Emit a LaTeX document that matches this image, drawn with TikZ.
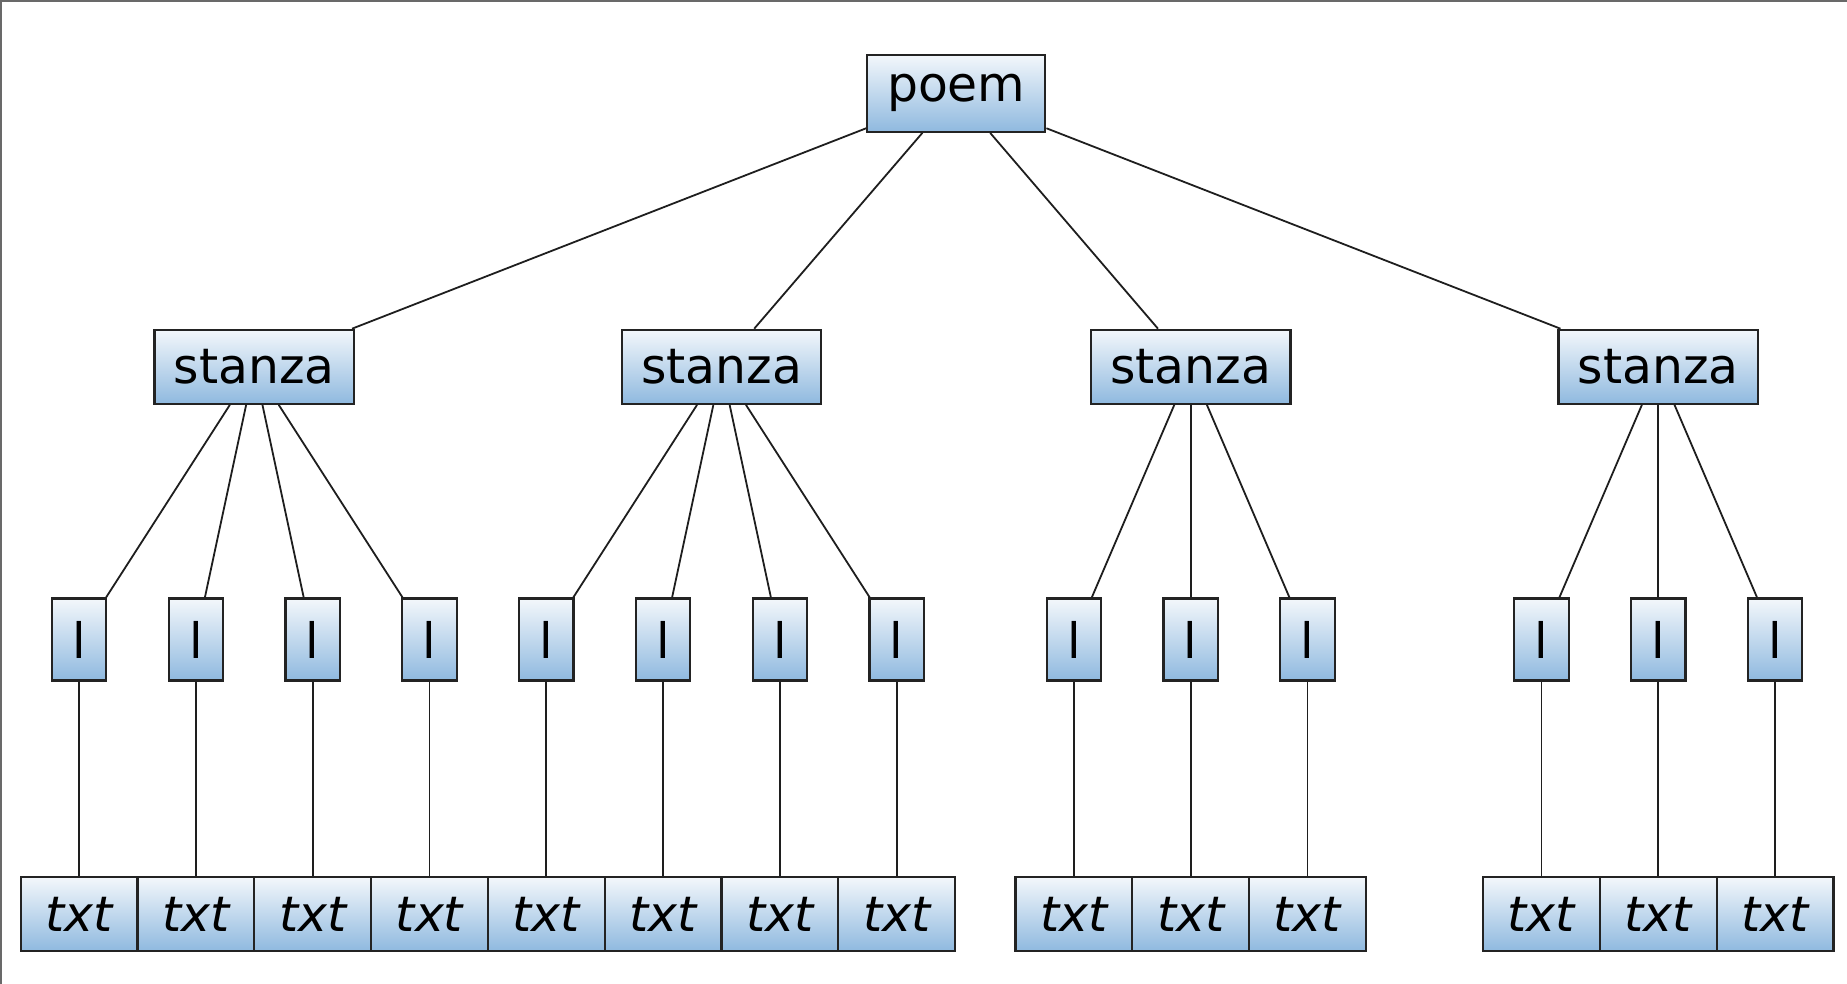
\documentclass[tikz,border=0pt]{standalone}
\usepackage{fontspec}
\setmainfont{DejaVu Sans}
\definecolor{boxtop}{RGB}{243,247,251}
\definecolor{boxbot}{RGB}{143,185,223}
\definecolor{boxline}{RGB}{35,35,35}
\definecolor{edgecol}{RGB}{30,30,30}
\definecolor{framecol}{RGB}{105,105,105}
\begin{document}
\begin{tikzpicture}[x=0.5pt,y=-0.5pt,
  box/.style={draw=boxline, line width=1.1pt, top color=boxtop, bottom color=boxbot,
    inner sep=0pt, font=\fontsize{24.4}{28}\selectfont, anchor=center},
  poembox/.style={box, minimum width=89pt, minimum height=38.5pt},
  stanzabox/.style={box, minimum width=99.8pt, minimum height=37pt},
  lbox/.style={box, minimum width=27.2pt, minimum height=41pt},
  txtbox/.style={box, minimum width=58.4pt, minimum height=37pt, font=\fontsize{24.4}{28}\selectfont\itshape},
  edge/.style={draw=edgecol, line width=0.9pt}]
\useasboundingbox (0,0) rectangle (1847,984);
\draw[framecol, line width=1.2pt] (0,1.2) -- (1847,1.2);
\draw[framecol, line width=1.2pt] (1.2,0) -- (1.2,984);

\node[poembox] (poem) at (956.3,93.3) {poem};
\node[stanzabox] (s1) at (254.3,366.8) {stanza};
\node[stanzabox] (s2) at (721.5,366.8) {stanza};
\node[stanzabox] (s3) at (1190.6,366.8) {stanza};
\node[stanzabox] (s4) at (1658.2,366.8) {stanza};
\foreach \s in {s1,s2,s3,s4} \draw[edge] (poem) -- (\s);

\foreach \n/\x/\p in {1/79.1/s1, 2/195.9/s1, 3/312.7/s1, 4/429.5/s1,
                      5/546.3/s2, 6/663.1/s2, 7/779.9/s2, 8/896.7/s2,
                      9/1073.8/s3, 10/1190.6/s3, 11/1307.4/s3,
                      12/1541.4/s4, 13/1658.2/s4, 14/1775.0/s4}{
  \node[lbox] (l\n) at (\x,639.5) {l};
  \node[txtbox] (t\n) at (\x,914) {txt};
  \draw[edge] (\p) -- (l\n);
  \draw[edge] (l\n) -- (t\n);
}
\end{tikzpicture}
\end{document}
